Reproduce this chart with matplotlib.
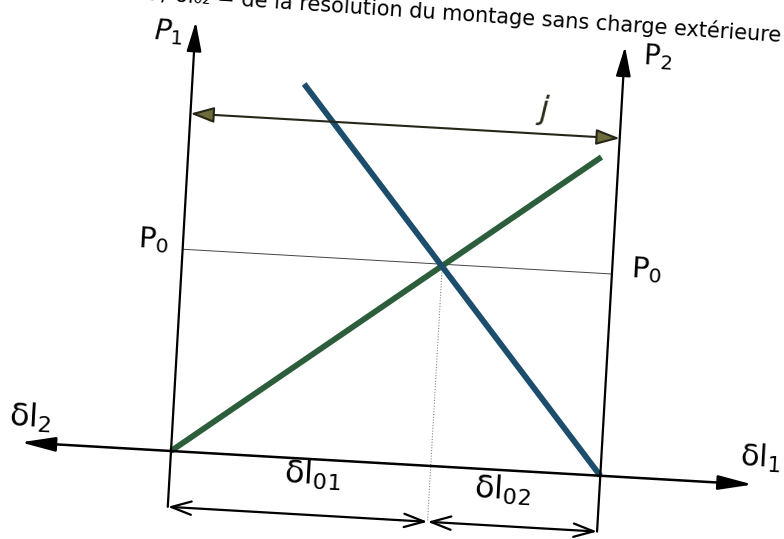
import numpy as np
import matplotlib.pyplot as plt
from matplotlib.transforms import Affine2D

plt.rcParams['mathtext.fontset'] = 'dejavusans'

# diagram quantities: δl along the horizontal axis, P upward
j = 10.0
dl01 = 6.05
dl02 = 3.95
p0 = 4.7
# characteristic of part 1 (green) and part 2 (blue)
line1_dl = [0.0, 9.6]
line1_p = [0.0, 7.4]
line2_dl = [2.6, 10.0]
line2_p = [8.7, 0.0]

# extents of the construction lines
p_top = 10.0
dim_level = -1.3
axis_left, axis_right = -3.5, 13.55
j_level = 7.86

# the sheet is slightly tilted on the page
origin = (171, 451)
scale = 43.0
tilt = 3.3

fig = plt.figure(figsize=(7.84, 5.39), dpi=100)
ax = fig.add_axes([0, 0, 1, 1])
ax.set_xlim(0, 784)
ax.set_ylim(539, 0)
ax.axis('off')

c, s = np.cos(np.radians(tilt)), np.sin(np.radians(tilt))
frame = Affine2D.from_values(scale * c, scale * s, scale * s, -scale * c,
                             origin[0], origin[1]) + ax.transData


def arrow(p_from, p_to, style, color='black', lw=1.6, ms=18, fc=None):
    ax.annotate('', xy=p_to, xytext=p_from, xycoords=frame, textcoords=frame,
                arrowprops=dict(arrowstyle=style, color=color, lw=lw,
                                mutation_scale=ms, shrinkA=0, shrinkB=0,
                                fc=fc if fc else color))


def label(x, y, txt, size, **kw):
    ax.text(x, y, txt, transform=frame, rotation=-tilt, rotation_mode='anchor',
            ha='center', va='center', fontsize=size, **kw)


# P axes on both sides
arrow((0, dim_level), (0, p_top), '-|>,head_length=1.0,head_width=0.25', ms=18)
arrow((j, dim_level), (j, p_top), '-|>,head_length=1.0,head_width=0.25', ms=18)
# δl axis, pointing both ways
arrow((axis_left, 0), (axis_right, 0), '<|-|>,head_length=1.05,head_width=0.22',
      lw=1.8, ms=20)

# P0 level and the dotted drop from the crossing point
ax.plot([0, j], [p0, p0], transform=frame, color='#444444', lw=0.7)
ax.plot([dl01, dl01], [p0, dim_level], transform=frame, color='#888888',
        lw=0.8, ls=(0, (1, 1.5)))

# characteristics
ax.plot(line1_dl, line1_p, transform=frame, color='#2d5e3c', lw=4.2,
        solid_capstyle='butt')
ax.plot(line2_dl, line2_p, transform=frame, color='#1c4d6c', lw=4.2,
        solid_capstyle='butt')

# width j
arrow((0, j_level), (j, j_level), '<|-|>,head_length=0.9,head_width=0.3',
      color='#262618', lw=1.5, ms=16, fc='#6e6c3a')

# δl01 and δl02 dimensions
arrow((0, dim_level), (dl01, dim_level), '<->,head_length=0.9,head_width=0.3',
      lw=1.6, ms=16)
arrow((dl01, dim_level), (dl01 + dl02, dim_level),
      '<->,head_length=0.9,head_width=0.3', lw=1.6, ms=16)

# labels
label(-0.63, 9.72, r'$P_1$', 20)
label(10.78, 9.79, r'$\mathrm{P}_2$', 20)
label(-0.68, 4.88, r'$\mathrm{P}_0$', 21)
label(10.8, 4.84, r'$\mathrm{P}_0$', 21)
label(8.18, 8.41, r'$j$', 23, color='#2a2a18')
label(-3.32, 0.58, r'$\mathrm{\delta l}_2$', 23)
label(13.7, 0.63, r'$\mathrm{\delta l}_1$', 22)
label(3.31, -0.37, r'$\mathrm{\delta l}_{01}$', 23)
label(7.74, -0.46, r'$\mathrm{\delta l}_{02}$', 23)

ax.text(781, 42, 'δl₀₁ / δl₀₂ = de la résolution du montage sans charge extérieure',
        rotation=-3.8, rotation_mode='anchor', ha='right', va='baseline',
        fontsize=15)

fig.savefig('out.png', dpi=100)
